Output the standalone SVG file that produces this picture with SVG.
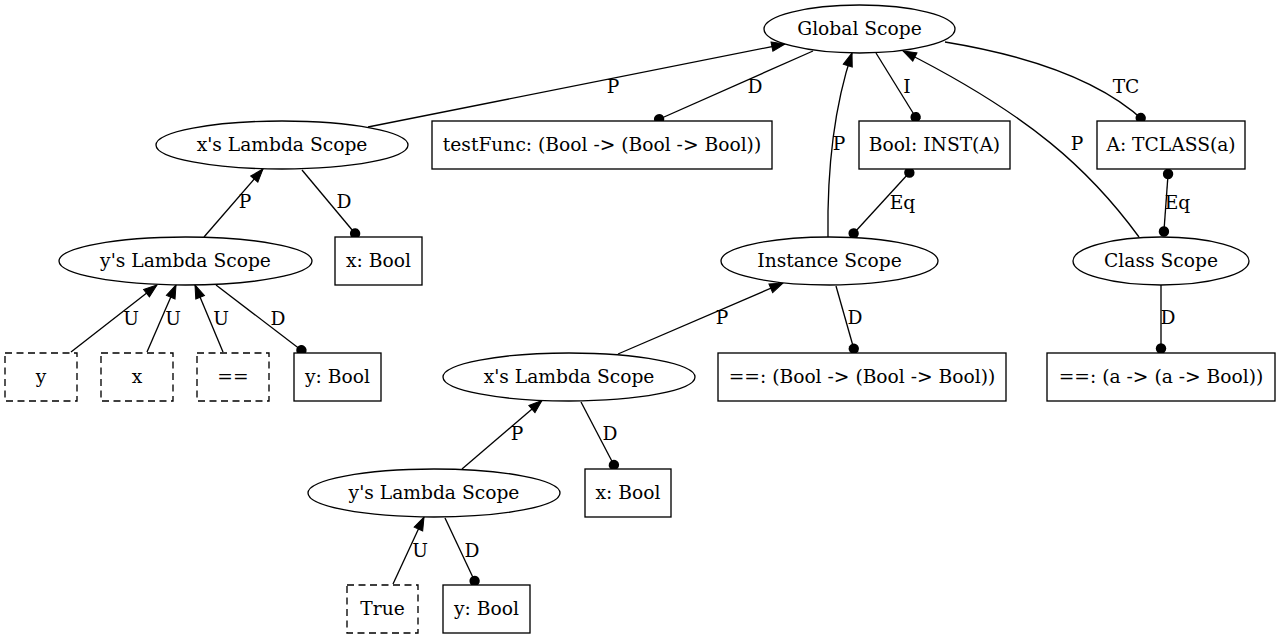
<svg xmlns="http://www.w3.org/2000/svg" width="1280" height="639" viewBox="0 0 1280 639">
<style>
text{font-family:"DejaVu Serif","Liberation Serif",serif;font-size:18.67px;fill:#000;text-anchor:middle}
.n{fill:#fff;stroke:#000;stroke-width:1.33}
.d{stroke-dasharray:7,4.5}
.e{fill:none;stroke:#000;stroke-width:1.33}
.a{marker-end:url(#arr)}
.t{marker-end:url(#dot)}
.b{marker-start:url(#dot);marker-end:url(#dot)}
</style>
<defs>
<marker id="arr" markerUnits="userSpaceOnUse" viewBox="0 0 14 10" markerWidth="14" markerHeight="10" refX="13.3" refY="4.7" orient="auto" overflow="visible"><path d="M0,0 L13.3,4.7 L0,9.4 Z" fill="#000" stroke="#000" stroke-width="1"/></marker>
<marker id="dot" markerUnits="userSpaceOnUse" viewBox="0 0 10 10" markerWidth="10" markerHeight="10" refX="9.5" refY="5" orient="auto-start-reverse" overflow="visible"><circle cx="5" cy="5" r="5.2" fill="#000"/></marker>
</defs>
<rect width="1280" height="639" fill="#fff"/>
<g id="edges">
<path class="e a" d="M368,127 L785,44"/>
<text x="613" y="92.5">P</text>
<path class="e t" d="M813,51 L655,121"/>
<text x="755" y="92.5">D</text>
<path class="e a" d="M828,237 C827,170 833,110 852,53"/>
<text x="839" y="149.5">P</text>
<path class="e t" d="M876,53 L918,121"/>
<text x="907" y="92.5">I</text>
<path class="e t" d="M945,42 C1030,56 1100,80 1144,121"/>
<text x="1126" y="92.5">TC</text>
<path class="e a" d="M1139,237 C1090,170 1030,115 903,51"/>
<text x="1077" y="150">P</text>
<path class="e b" d="M850.6,236.7 L912.4,169.3"/>
<text x="902.5" y="209">Eq</text>
<path class="e b" d="M1163.6,236 L1168.4,169.5"/>
<text x="1177.5" y="209">Eq</text>
<path class="e a" d="M204,237 L263,169"/>
<text x="245" y="208">P</text>
<path class="e t" d="M302,170 L358,237"/>
<text x="344" y="208">D</text>
<path class="e a" d="M71,352 L157,285"/>
<text x="131" y="324.5">U</text>
<path class="e a" d="M147,352 L176,285"/>
<text x="173" y="324.5">U</text>
<path class="e a" d="M223,352 L195,285"/>
<text x="221" y="324.5">U</text>
<path class="e t" d="M216,285 L305,353"/>
<text x="278" y="324.5">D</text>
<path class="e a" d="M618,354 L783,283"/>
<text x="722" y="323.5">P</text>
<path class="e t" d="M836,286 L855,353"/>
<text x="855" y="323.5">D</text>
<path class="e t" d="M1161,285 L1161,353"/>
<text x="1168" y="323.5">D</text>
<path class="e a" d="M462,469 L542,400.5"/>
<text x="517" y="439.5">P</text>
<path class="e t" d="M581,402 L616,469"/>
<text x="610" y="439.5">D</text>
<path class="e a" d="M393,584 L424,517"/>
<text x="420" y="556.5">U</text>
<path class="e t" d="M445,518 L476.5,585"/>
<text x="472" y="556.5">D</text>
</g>
<g id="global"><ellipse class="n" cx="859.5" cy="29" rx="95.5" ry="24"/><text x="859.5" y="35">Global Scope</text></g>
<g id="xlambda1"><ellipse class="n" cx="282" cy="145" rx="126" ry="24"/><text x="282" y="151">x's Lambda Scope</text></g>
<g id="testfunc"><rect class="n" x="432" y="121" width="340" height="48"/><text x="602" y="151">testFunc: (Bool -&gt; (Bool -&gt; Bool))</text></g>
<g id="boolinst"><rect class="n" x="859" y="121" width="151" height="48"/><text x="934.5" y="151">Bool: INST(A)</text></g>
<g id="tclass"><rect class="n" x="1097" y="121" width="148" height="48"/><text x="1171" y="151">A: TCLASS(a)</text></g>
<g id="ylambda1"><ellipse class="n" cx="185.5" cy="261" rx="126.5" ry="24"/><text x="185.5" y="267">y's Lambda Scope</text></g>
<g id="xbool1"><rect class="n" x="335" y="237" width="87" height="48"/><text x="378.5" y="267">x: Bool</text></g>
<g id="instance"><ellipse class="n" cx="829.5" cy="261" rx="108.5" ry="24"/><text x="829.5" y="267">Instance Scope</text></g>
<g id="class"><ellipse class="n" cx="1161" cy="261" rx="88" ry="24"/><text x="1161" y="267">Class Scope</text></g>
<g id="uy"><rect class="n d" x="5" y="353" width="72" height="48"/><text x="41" y="383">y</text></g>
<g id="ux"><rect class="n d" x="101" y="353" width="72" height="48"/><text x="137" y="383">x</text></g>
<g id="ueq"><rect class="n d" x="197" y="353" width="72" height="48"/><text x="233" y="383">==</text></g>
<g id="ybool1"><rect class="n" x="294" y="353" width="87" height="48"/><text x="337.5" y="383">y: Bool</text></g>
<g id="xlambda2"><ellipse class="n" cx="569" cy="377" rx="126" ry="24"/><text x="569" y="383">x's Lambda Scope</text></g>
<g id="eqbool"><rect class="n" x="718" y="353" width="288" height="48"/><text x="862" y="383">==: (Bool -&gt; (Bool -&gt; Bool))</text></g>
<g id="eqa"><rect class="n" x="1047" y="353" width="228" height="48"/><text x="1161" y="383">==: (a -&gt; (a -&gt; Bool))</text></g>
<g id="ylambda2"><ellipse class="n" cx="434" cy="493" rx="126" ry="24"/><text x="434" y="499">y's Lambda Scope</text></g>
<g id="xbool2"><rect class="n" x="585" y="469" width="86" height="48"/><text x="628" y="499">x: Bool</text></g>
<g id="utrue"><rect class="n d" x="347" y="585" width="71" height="48"/><text x="382.5" y="615">True</text></g>
<g id="ybool2"><rect class="n" x="443" y="585" width="87" height="48"/><text x="486.5" y="615">y: Bool</text></g>
</svg>
